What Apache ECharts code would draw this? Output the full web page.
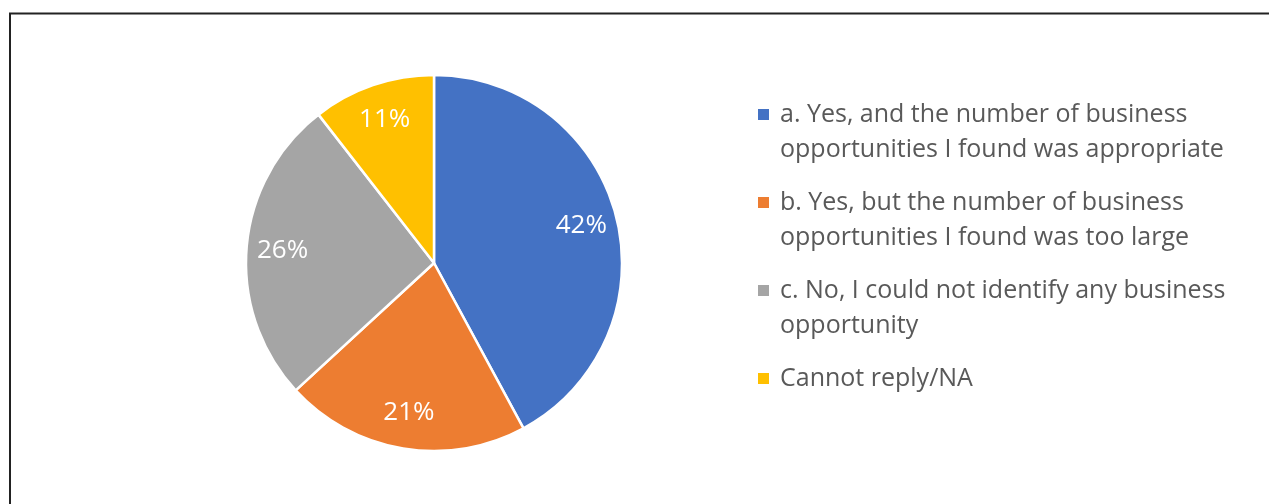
<!DOCTYPE html>
<html>
<head>
<meta charset="utf-8">
<script src="https://cdn.jsdelivr.net/npm/echarts@6/dist/echarts.min.js"></script>
<style>
html,body{margin:0;padding:0;background:#fff;}
#chart{width:1269px;height:504px;}
</style>
</head>
<body>
<div id="chart"></div>
<script>
const categories = [
  'a. Yes, and the number of business\nopportunities I found was appropriate',
  'b. Yes, but the number of business\nopportunities I found was too large',
  'c. No, I could not identify any business\nopportunity',
  'Cannot reply/NA'
];
const counts = [8, 4, 5, 2];
const colors = ['#4472C4', '#ED7D31', '#A5A5A5', '#FFC000'];

const FONT = 'Open Sans';
const data = categories.map((n, i) => ({ name: n, value: counts[i], itemStyle: { color: colors[i] } }));

const rich = {
  g: { width: 11 },
  s: { width: 22 },
  t: { fontFamily: FONT, fontSize: 25, lineHeight: 35, color: '#595959' }
};
colors.forEach((c, i) => { rich['m' + i] = { width: 11, height: 11, backgroundColor: c }; });

const chart = echarts.init(document.getElementById('chart'), null, { renderer: 'canvas' });
chart.setOption({
  animation: false,
  backgroundColor: '#fff',
  graphic: [{
    type: 'rect', silent: true,
    shape: { x: 10, y: 13.5, width: 1400, height: 700 },
    style: { fill: 'none', stroke: '#222', lineWidth: 2 }
  }],
  legend: {
    orient: 'vertical',
    left: 753, top: 97,
    padding: 0,
    icon: 'none', itemWidth: 0, itemHeight: 0,
    itemGap: 18,
    selectedMode: false,
    data: categories,
    formatter: function (name) {
      const i = categories.indexOf(name);
      const lines = name.split('\n');
      return lines.map((l, k) => (k === 0 ? '{m' + i + '|}{g| }' : '{s| }') + '{t|' + l + '}').join('\n');
    },
    textStyle: { rich: rich, lineHeight: 35 }
  },
  series: [{
    type: 'pie',
    center: [434, 263],
    radius: [0, 188],
    startAngle: 90,
    clockwise: true,
    data: data,
    label: { show: false },
    labelLine: { show: false },
    itemStyle: { borderColor: '#fff', borderWidth: 2.5 },
    emphasis: { disabled: true }
  }, {
    type: 'pie',
    center: [434, 263],
    radius: [0, 298],
    startAngle: 90,
    clockwise: true,
    silent: true,
    data: categories.map((n, i) => ({ name: n, value: counts[i] })),
    itemStyle: { color: 'rgba(0,0,0,0)', borderWidth: 0 },
    label: {
      show: true, position: 'inside',
      formatter: p => Math.round(p.percent) + '%',
      color: '#fff', fontFamily: FONT, fontSize: 26
    },
    labelLine: { show: false },
    emphasis: { disabled: true }
  }]
});
</script>
</body>
</html>
